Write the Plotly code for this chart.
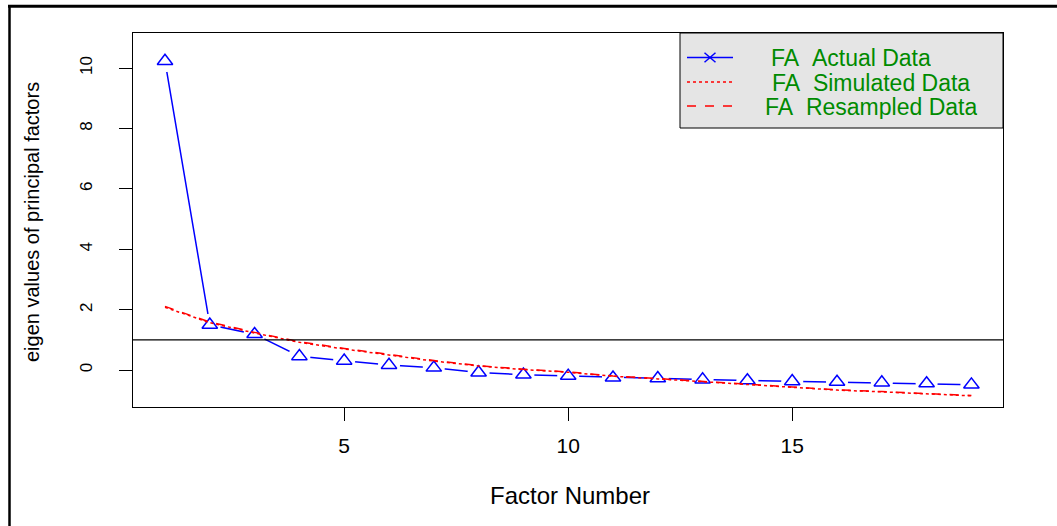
import plotly.graph_objects as go

factor_number = list(range(1, 20))
fa_actual = [10.23, 1.50, 1.19, 0.46, 0.31, 0.17, 0.08, -0.08, -0.15, -0.19,
             -0.25, -0.27, -0.31, -0.34, -0.37, -0.39, -0.41, -0.44, -0.48]
fa_simulated = [2.08, 1.57, 1.23, 0.92, 0.70, 0.50, 0.30, 0.14, 0.02, -0.07,
                -0.20, -0.29, -0.38, -0.48, -0.58, -0.66, -0.72, -0.78, -0.85]
fa_resampled = [2.11, 1.59, 1.25, 0.94, 0.72, 0.52, 0.32, 0.15, 0.03, -0.06,
                -0.19, -0.28, -0.37, -0.47, -0.57, -0.65, -0.71, -0.77, -0.84]
legend_labels = ["FA\u00a0\u00a0Actual Data", "FA\u00a0\u00a0Simulated Data", "FA\u00a0\u00a0Resampled Data"]
y_ticks = [0, 2, 4, 6, 8, 10]
x_ticks = [5, 10, 15]
eigen_cutoff = 1

BLUE = "#0000FF"
RED = "#FF0000"
GREEN = "#008B00"
FONT = "Liberation Sans, Arial, sans-serif"

W, H = 1057, 526
ML, MR, MT, MB = 133, 54, 33, 119
PW, PH = W - ML - MR, H - MT - MB


def xp(px):
    return (px - ML) / PW


def yp(py):
    return 1 - (py - MT) / PH


fig = go.Figure()
# actual data line (R type "b": gaps around points)
fig.add_trace(go.Scatter(x=factor_number, y=fa_actual, mode="lines",
                         line=dict(color=BLUE, width=1.5), showlegend=False, hoverinfo="skip"))
fig.add_trace(go.Scatter(x=factor_number, y=fa_actual, mode="markers",
                         marker=dict(symbol="circle", size=22, color="white"),
                         showlegend=False, hoverinfo="skip"))
fig.add_trace(go.Scatter(x=factor_number, y=fa_actual, mode="markers", name=legend_labels[0],
                         marker=dict(symbol="triangle-up-open", size=13.5, color=BLUE,
                                     line=dict(color=BLUE, width=1.5)),
                         showlegend=False))
fig.add_trace(go.Scatter(x=factor_number, y=fa_simulated, mode="lines", name=legend_labels[1],
                         line=dict(color=RED, width=1.5, dash="dot"), showlegend=False))
fig.add_trace(go.Scatter(x=factor_number, y=fa_resampled, mode="lines", name=legend_labels[2],
                         line=dict(color=RED, width=1.5, dash="dash"), showlegend=False))

shapes = []
# reference line at eigenvalue 1
shapes.append(dict(type="line", xref="paper", yref="y", x0=0, x1=1,
                   y0=eigen_cutoff, y1=eigen_cutoff,
                   line=dict(color="black", width=1.2), layer="above"))
# outer figure frame (top and left edges)
shapes.append(dict(type="line", xref="paper", yref="paper", x0=xp(8), x1=xp(W + 5),
                   y0=yp(6.3), y1=yp(6.3), line=dict(color="black", width=3), layer="above"))
shapes.append(dict(type="line", xref="paper", yref="paper", x0=xp(9.5), x1=xp(9.5),
                   y0=yp(5), y1=yp(H + 5), line=dict(color="black", width=2.5), layer="above"))

# legend box (R-style, top right, gray90 background)
shapes.append(dict(type="rect", xref="paper", yref="paper", x0=xp(680), x1=1,
                   y0=yp(128), y1=1, fillcolor="#E5E5E5",
                   line=dict(color="black", width=1), layer="above"))
row_y = [57.5, 82, 106]
line_styles = [dict(color=BLUE, width=1.5), dict(color=RED, width=1.5, dash="dot"),
               dict(color=RED, width=1.5, dash="dash")]
for ry, ls in zip(row_y, line_styles):
    shapes.append(dict(type="line", xref="paper", yref="paper", x0=xp(687), x1=xp(733),
                       y0=yp(ry), y1=yp(ry), line=ls, layer="above"))
# cross symbol (pch 4) on the first legend row
for dy in (-4.7, 4.7):
    shapes.append(dict(type="line", xref="paper", yref="paper", x0=xp(704.5), x1=xp(715.5),
                       y0=yp(row_y[0] - dy), y1=yp(row_y[0] + dy),
                       line=dict(color=BLUE, width=1.5), layer="above"))

annotations = []
text_x = [769, 770, 763]
for lbl, tx, ry in zip(legend_labels, text_x, row_y):
    annotations.append(dict(text=lbl, xref="paper", yref="paper", x=xp(tx), y=yp(ry + 0.5),
                            xanchor="left", yanchor="middle", showarrow=False,
                            height=24, valign="middle",
                            font=dict(family=FONT, size=23, color=GREEN)))
annotations.append(dict(text="Factor Number", xref="paper", yref="paper", x=xp(570), y=yp(495),
                        xanchor="center", yanchor="middle", showarrow=False,
                        font=dict(family=FONT, size=24, color="black")))
annotations.append(dict(text="eigen values of principal factors", xref="paper", yref="paper",
                        x=xp(32), y=yp(222), xanchor="center", yanchor="middle",
                        textangle=-90, showarrow=False,
                        font=dict(family=FONT, size=20, color="black")))

axis_common = dict(showline=True, mirror=True, linecolor="black", linewidth=1.2,
                   ticks="outside", ticklen=13, tickcolor="black", tickwidth=1.2,
                   showgrid=False, zeroline=False)

fig.update_layout(
    width=W, height=H,
    margin=dict(l=ML, r=MR, t=MT, b=MB, autoexpand=False),
    paper_bgcolor="white", plot_bgcolor="white",
    showlegend=False,
    xaxis=dict(range=[0.286, 19.705], tickvals=x_ticks, ticklabelstandoff=7,
               tickfont=dict(family=FONT, size=21, color="black"), **axis_common),
    yaxis=dict(range=[-1.22, 11.16], tickvals=y_ticks, tickangle=-90, ticklabelstandoff=20,
               tickfont=dict(family=FONT, size=17, color="black"), **axis_common),
    shapes=shapes,
    annotations=annotations,
)

fig.write_html("out.html", config={"displayModeBar": False},
               post_script="document.body.style.margin='0';document.body.style.padding='0';")
